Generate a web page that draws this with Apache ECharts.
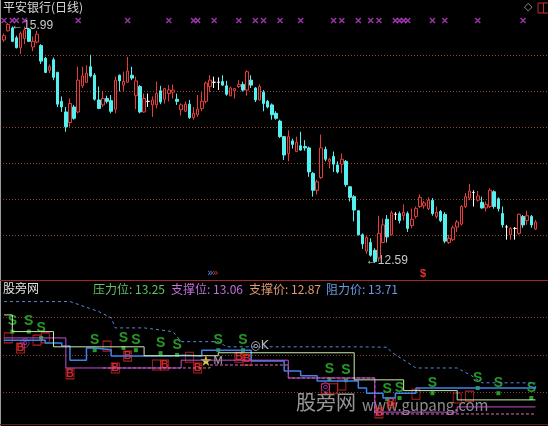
<!DOCTYPE html>
<html><head><meta charset="utf-8">
<script src="https://cdn.jsdelivr.net/npm/echarts@6/dist/echarts.min.js"></script>
<style>html,body{margin:0;padding:0;background:#000;overflow:hidden}#c{width:548px;height:426px}</style>
</head><body><div id="c"></div><script>
// Daily candles: [open, close, low, high]
const candles = [
[15.75,15.81,15.72,15.84],[15.88,15.97,15.87,15.99],[15.92,15.73,15.72,15.94],[15.78,15.64,15.63,15.81],[15.64,15.84,15.55,15.87],
[15.77,15.89,15.69,15.94],[15.90,15.73,15.72,15.92],[15.65,15.73,15.59,15.80],[15.72,15.83,15.70,15.88],[15.67,15.45,15.41,15.69],
[15.49,15.29,15.28,15.51],[15.32,15.37,15.28,15.40],[15.47,15.22,15.18,15.50],[15.29,14.84,14.80,15.30],[14.88,14.80,14.73,14.95],
[14.73,14.52,14.45,14.80],[14.58,14.85,14.52,14.92],[14.80,14.64,14.62,14.83],[14.73,15.18,14.71,15.37],[15.10,15.24,15.07,15.37],
[15.15,15.28,15.14,15.39],[15.37,15.24,15.22,15.54],[15.25,14.91,14.89,15.28],[14.90,14.78,14.77,15.09],[14.83,14.92,14.80,15.03],
[14.92,14.88,14.85,14.96],[14.89,14.74,14.71,14.97],[14.77,15.18,14.71,15.23],[15.25,15.17,15.02,15.26],[15.11,15.16,15.02,15.30],
[15.15,15.31,15.14,15.51],[15.25,15.21,15.18,15.37],[14.96,15.17,14.77,15.23],[15.09,14.73,14.71,15.11],[14.73,14.92,14.72,14.99],
[14.88,14.88,14.80,14.99],[14.83,14.90,14.66,14.95],[14.83,14.99,14.78,15.16],[15.03,14.87,14.84,15.10],[14.91,15.06,14.85,15.07],
[14.99,15.04,14.88,15.11],[15.01,15.04,14.92,15.12],[14.91,14.88,14.83,14.99],[14.76,14.83,14.68,14.85],[14.74,14.84,14.73,14.88],
[14.84,14.65,14.63,14.90],[14.65,14.71,14.62,14.80],[14.69,14.77,14.66,14.97],[14.78,14.88,14.74,15.01],[14.88,15.14,14.85,15.16],
[15.09,15.18,15.01,15.25],[15.15,15.15,15.07,15.23],[15.15,15.15,15.04,15.22],[15.16,15.11,15.10,15.25],[15.10,14.98,14.96,15.17],
[14.96,15.07,14.95,15.09],[15.03,15.06,14.92,15.07],[15.09,15.12,15.07,15.18],[15.12,15.04,15.02,15.16],[15.04,15.30,14.96,15.32],
[15.18,15.11,15.07,15.25],[15.07,14.90,14.87,15.08],[14.90,15.09,14.89,15.12],[15.01,14.85,14.74,15.04],[14.88,14.80,14.78,14.90],
[14.83,14.69,14.62,14.85],[14.71,14.64,14.62,14.74],[14.60,14.38,14.36,14.62],[14.38,14.12,14.05,14.39],[14.14,14.38,14.03,14.47],
[14.32,14.27,14.21,14.35],[14.17,14.30,14.16,14.38],[14.25,14.19,14.18,14.45],[14.24,14.22,14.18,14.33],[14.22,13.88,13.81,14.24],
[13.86,13.62,13.53,13.88],[13.62,13.74,13.56,13.77],[13.80,14.22,13.78,14.41],[14.20,14.06,14.03,14.24],[14.03,14.06,13.93,14.08],
[14.10,13.99,13.88,14.17],[13.98,13.88,13.86,14.03],[13.99,14.06,13.86,14.14],[14.03,13.70,13.67,14.05],[13.67,13.52,13.46,13.68],
[13.53,13.34,13.18,13.55],[13.33,12.99,12.98,13.34],[12.99,12.86,12.79,13.01],[12.76,12.95,12.72,12.97],[12.88,12.70,12.68,12.94],
[12.77,12.61,12.59,12.80],[12.66,13.01,12.61,13.26],[12.88,13.13,12.87,13.22],[13.21,12.96,12.88,13.27],[12.99,13.30,12.98,13.33],
[13.28,13.28,13.20,13.31],[13.29,13.19,13.15,13.32],[13.26,13.31,13.19,13.42],[13.29,13.08,13.03,13.32],[13.12,13.21,13.08,13.36],
[13.25,13.36,13.22,13.39],[13.39,13.52,13.37,13.56],[13.40,13.44,13.36,13.47],[13.36,13.48,13.34,13.52],[13.48,13.29,13.26,13.51],
[13.25,13.31,13.22,13.39],[13.32,13.19,13.17,13.34],[13.28,12.90,12.87,13.31],[12.88,12.94,12.86,12.99],[12.92,13.09,12.90,13.12],
[13.10,13.17,13.03,13.20],[13.14,13.39,13.12,13.41],[13.39,13.53,13.37,13.58],[13.51,13.61,13.48,13.71],[13.59,13.59,13.39,13.62],
[13.48,13.54,13.46,13.61],[13.45,13.37,13.36,13.53],[13.37,13.42,13.32,13.46],[13.39,13.62,13.37,13.65],[13.60,13.39,13.36,13.62],
[13.50,13.36,13.32,13.52],[13.29,13.13,13.09,13.39],[13.10,13.10,12.92,13.13],[12.99,13.08,12.92,13.10],[13.08,13.08,12.92,13.10],
[13.01,13.28,12.99,13.29],[13.25,13.13,13.09,13.27],[13.19,13.26,13.13,13.33],[13.25,13.13,13.09,13.27],[13.07,13.17,13.06,13.20]
];
// candle indexes carrying the purple cross signal along the top
const crossSignals = [0,2,3,5,18,30,40,46,47,51,57,61,63,67,72,80,82,86,89,91,95,96,97,98,104,107,115,126];

// lower pane: step lines as [candle index, level]
const resistPrice = [[0,15.90],[16,15.90],[23,15.63],[26,15.46],[27,15.19],[34,15.19],[41,15.09],[43,14.82],[52,14.82],[54,14.68],[85,14.68],[93,14.67],[94,14.54],[100,14.11],[110,14.11],[114,13.87],[116,13.71],[129,13.71]];
const pressureLevel = [[0,15.54],[2,15.09],[12,14.68],[34,14.44],[52,14.52],[85,13.79],[97,13.50],[110,13.25],[129,13.25]];
const supportLevel = [[0,14.92],[5,14.92],[15,14.11],[43,14.32],[69,13.84],[90,12.92],[110,13.06],[129,13.06]];
const supportPrice = [[24,14.11],[50,14.19],[69,13.84],[90,12.87],[129,12.87]];
const trendStair = [[0,14.86],[10,14.78],[14,14.70],[16,14.32],[20,14.65],[22,14.60],[26,14.43],[40,14.45],[44,14.43],[48,14.59],[55,14.59],[60,14.30],[68,14.03],[72,13.90],[76,13.76],[86,13.57],[88,13.43],[92,13.30],[95,13.43],[100,13.57],[129,13.62]];
const sellMarks = [[2,15.36],[6,15.36],[9,15.19],[22,14.86],[29,14.92],[32,14.86],[38,14.78],[42,14.73],[52,14.86],[58,14.86],[79,14.08],[83,14.05],[93,13.54],[96,13.57],[104,13.70],[115,13.84],[120,13.70],[128,13.57]];
const buyMarks = [[4,14.65],[16,13.95],[27,14.11],[30,14.43],[39,14.19],[47,14.11],[57,14.40],[59,14.35],[91,12.90],[94,13.17]];
const boxMarks = [[1,14.92],[4,14.65],[8,14.86],[10,14.92],[16,13.95],[25,14.70],[27,14.11],[30,14.43],[37,14.19],[39,14.19],[45,14.40],[47,14.11],[57,14.40],[59,14.32],[78,13.55],[80,13.55],[82,13.65],[91,12.90],[94,13.17],[100,13.40],[110,13.30],[113,13.35]];
const starMark = [49,14.31];
const kMark = [62,14.70];
const ringMarks = [[5,14.78],[78,13.60]];

const N = candles.length;
const cats = candles.map((_, i) => i);
const highs = candles.map(c => c[3]);
const lows = candles.map(c => c[2]);
const hi = Math.max(...highs), lo = Math.min(...lows);
const hiIdx = highs.indexOf(hi), loIdx = lows.indexOf(lo);

// price pane: high sits 23px below the top, low 17px above the pane bottom (280px pane)
const ppu = (263 - 23) / (hi - lo);
const yMax = hi + 23 / ppu, yMin = lo - 17 / ppu;

const UP = '#e83c3c', DOWN = '#54f0f0';
const candleData = candles.map(c => c[0] === c[1]
  ? { value: c, itemStyle: { color: '#ffffff', color0: '#ffffff', borderColor: '#ffffff', borderColor0: '#ffffff' } }
  : c);

const L = 2, R = 10.5;
const xCat = (gi) => ({ type: 'category', gridIndex: gi, data: cats, boundaryGap: true, show: false });
const hidden = { axisLine: { show: false }, axisTick: { show: false }, axisLabel: { show: false } };

const chart = echarts.init(document.getElementById('c'));
const last = a => a[a.length - 1][1];
const txt = (x, y, s, fill, size, font) => ({ type: 'text', left: x, top: y, silent: true,
  style: { text: s, fill, font: font || ((size || 12) + 'px "Noto Sans CJK SC","Liberation Sans",sans-serif') } });

chart.setOption({
  backgroundColor: '#000',
  animation: false,
  grid: [
    { left: L, right: R, top: 0, height: 280 },
    { left: 3, right: 0, top: 55, height: 180 },
    { left: L, right: R, top: 283, height: 141 },
    { left: 3, right: 0, top: 317.5, height: 75 }
  ],
  xAxis: [
    xCat(0),
    Object.assign({ type: 'value', gridIndex: 1, min: 0, max: 1, splitLine: { show: false } }, hidden),
    xCat(2),
    Object.assign({ type: 'value', gridIndex: 3, min: 0, max: 1, splitLine: { show: false } }, hidden)
  ],
  yAxis: [
    Object.assign({ type: 'value', gridIndex: 0, min: yMin, max: yMax, splitLine: { show: false } }, hidden),
    Object.assign({ type: 'value', gridIndex: 1, min: 0, max: 5, interval: 1,
      splitLine: { show: true, lineStyle: { color: '#8a4a2a', type: [1, 2], width: 1 } } }, hidden),
    Object.assign({ type: 'value', gridIndex: 2, min: 12.6, max: 16.4, splitLine: { show: false } }, hidden),
    Object.assign({ type: 'value', gridIndex: 3, min: 0, max: 2, interval: 1,
      splitLine: { show: true, lineStyle: { color: '#8a3a2a', type: [1, 2], width: 1 } } }, hidden)
  ],
  series: [
    { type: 'candlestick', xAxisIndex: 0, yAxisIndex: 0, data: candleData, barWidth: 3,
      itemStyle: { color: '#000', color0: DOWN, borderColor: UP, borderColor0: DOWN, borderWidth: 1 } },
    { type: 'scatter', xAxisIndex: 0, yAxisIndex: 0, clip: false,
      data: crossSignals.map(i => [i, yMax - 20.5 / ppu]),
      symbol: 'path://M0,0L1,1M1,0L0,1', symbolSize: 5,
      itemStyle: { color: 'none', borderColor: '#c040d0', borderWidth: 1.5 } },
    // lower pane lines
    { type: 'line', xAxisIndex: 2, yAxisIndex: 2, data: resistPrice, symbol: 'none',
      lineStyle: { color: '#5a86d8', width: 1, type: [3, 3] } },
    { type: 'line', xAxisIndex: 2, yAxisIndex: 2, data: trendStair, step: 'end', symbol: 'none',
      lineStyle: { color: '#3c84ec', width: 1.5 } },
    { type: 'line', xAxisIndex: 2, yAxisIndex: 2, data: supportPrice, step: 'end', symbol: 'none',
      lineStyle: { color: '#e070b0', width: 1, type: [3, 2] } },
    { type: 'line', xAxisIndex: 2, yAxisIndex: 2, data: supportLevel, step: 'end', symbol: 'none',
      lineStyle: { color: '#c050d0', width: 1 } },
    { type: 'line', xAxisIndex: 2, yAxisIndex: 2, data: pressureLevel, step: 'end', symbol: 'none',
      lineStyle: { color: '#c8ecb0', width: 1 } },
    { type: 'scatter', xAxisIndex: 2, yAxisIndex: 2, data: boxMarks, symbol: 'rect', symbolSize: [8, 10],
      itemStyle: { color: 'rgba(0,0,0,0)', borderColor: '#e02828', borderWidth: 1 } },
    { type: 'scatter', xAxisIndex: 2, yAxisIndex: 2, data: buyMarks, symbolSize: 0,
      label: { show: true, position: 'inside', formatter: 'B', color: '#ff3030', fontSize: 11, fontWeight: 'bold', fontFamily: 'Liberation Sans' } },
    { type: 'scatter', xAxisIndex: 2, yAxisIndex: 2, data: sellMarks.map(p => [p[0], p[1] - 0.27]), symbol: 'rect', symbolSize: 4,
      itemStyle: { color: '#30c030' } },
    { type: 'scatter', xAxisIndex: 2, yAxisIndex: 2, data: sellMarks, symbolSize: 0,
      label: { show: true, position: 'inside', formatter: 'S', color: '#30c030', fontSize: 14, fontWeight: 'bold', fontFamily: 'Liberation Sans' } },
    { type: 'scatter', xAxisIndex: 2, yAxisIndex: 2, data: [starMark], symbol: 'path://M50,0L61,35L98,35L68,57L79,91L50,70L21,91L32,57L2,35L39,35Z', symbolSize: 11,
      itemStyle: { color: '#ffff40' },
      label: { show: true, position: 'right', distance: 2, formatter: 'M', color: '#e0e0e0', fontSize: 11, fontFamily: 'Liberation Sans' } },
    { type: 'scatter', xAxisIndex: 2, yAxisIndex: 2, data: [kMark], symbolSize: 0,
      label: { show: true, position: 'inside', formatter: '◎K', color: '#e8e8e8', fontSize: 12, fontFamily: 'DejaVu Sans' } },
    { type: 'scatter', xAxisIndex: 2, yAxisIndex: 2, data: ringMarks, symbolSize: 0,
      label: { show: true, position: 'inside', formatter: '◎', color: '#d040e0', fontSize: 12, fontFamily: 'DejaVu Sans' } }
  ]
});

// high / low price tags placed next to their candles
const pHi = chart.convertToPixel({ gridIndex: 0 }, [hiIdx, hi]);
const pLo = chart.convertToPixel({ gridIndex: 0 }, [loIdx, lo]);
const numFont = '12px "Liberation Sans",sans-serif';
chart.setOption({ graphic: [
  { type: 'line', silent: true, shape: { x1: 0.5, y1: 0, x2: 0.5, y2: 426 }, style: { stroke: '#9a9a9a', lineWidth: 1 } },
  { type: 'line', silent: true, shape: { x1: 0, y1: 280.5, x2: 548, y2: 280.5 }, style: { stroke: '#a02828', lineWidth: 1 } },
  { type: 'line', silent: true, shape: { x1: 0, y1: 424.5, x2: 548, y2: 424.5 }, style: { stroke: '#601818', lineWidth: 1 } },
  txt(3, 1, '平安银行(日线)', '#d8d8d8', 12),
  txt(3, 282, '股旁网', '#e0e0e0', 12),
  txt(93, 283, '压力位: ' + last(pressureLevel).toFixed(2), '#62c462', 12),
  txt(171, 283, '支撑位: ' + last(supportLevel).toFixed(2), '#c070d8', 12),
  txt(249, 283, '支撑价: ' + last(supportPrice).toFixed(2), '#e09a70', 12),
  txt(326, 283, '阻力价: ' + last(resistPrice).toFixed(2), '#6a9ae0', 12),
  txt(207, 268, '»', '#5a8af0', 11, '11px "DejaVu Sans"'),
  txt(212, 268, '»', '#e03030', 11, '11px "DejaVu Sans"'),
  txt(420, 268, '$', '#e03030', 11, 'bold 11px "Liberation Sans"'),
  txt(524, 2, '◇', '#a0a0a0', 11, '11px "DejaVu Sans"'),
  { type: 'rect', silent: true, shape: { x: 538, y: 3, width: 11, height: 10 }, style: { fill: 'none', stroke: '#c03030' } },
  { type: 'line', silent: true, shape: { x1: 543.5, y1: 3, x2: 543.5, y2: 13 }, style: { stroke: '#c03030' } },
  txt(296, 392, '股旁网', 'rgba(200,200,200,0.75)', 20),
  txt(362, 398, 'www.gupang.com', 'rgba(200,200,200,0.7)', 15),
  txt(pHi[0] + 3, pHi[1] - 3, '←' + hi.toFixed(2), '#c8c8c8', 12, numFont),
  txt(pLo[0] - 9, pLo[1] - 8, '←' + lo.toFixed(2), '#c8c8c8', 12, numFont)
] });
</script></body></html>
